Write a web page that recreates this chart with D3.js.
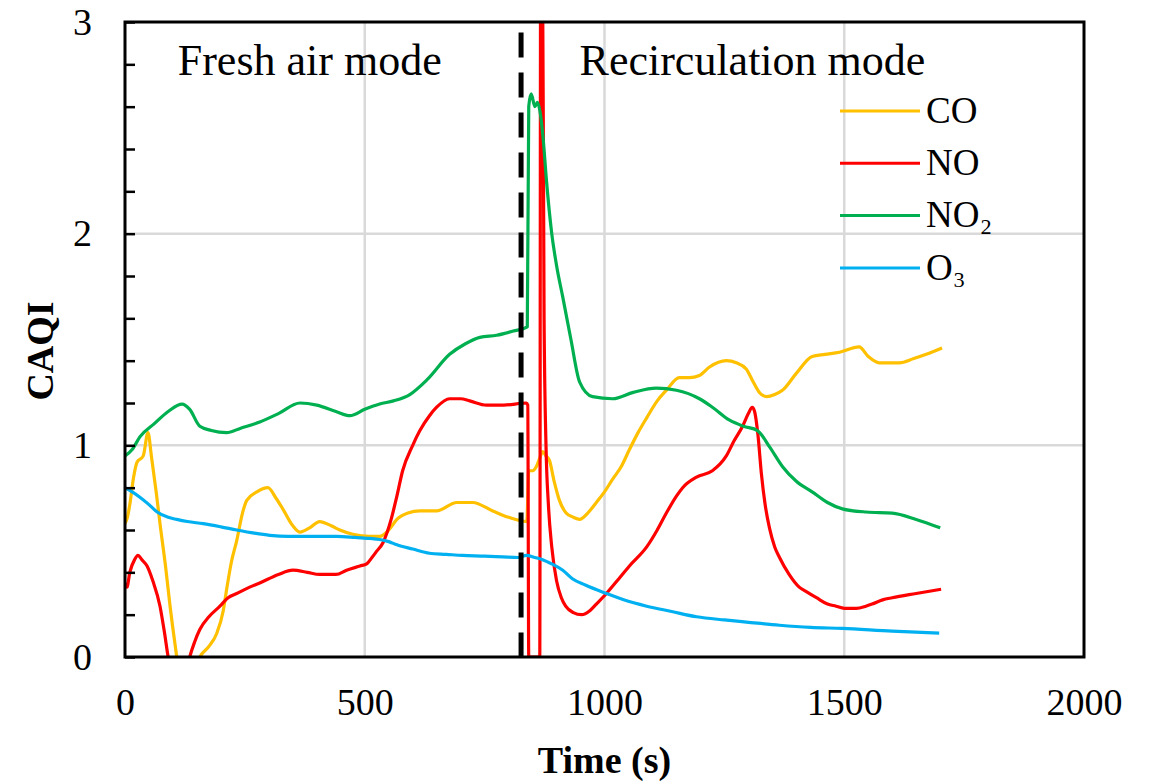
<!DOCTYPE html>
<html>

<head>
    <title>CAQI - fresh air vs recirculation</title>
    <script src="https://cdn.jsdelivr.net/npm/d3@7"></script>
    <style>
        body {
            margin: 0;
            background: white;
            font-family: 'Times New Roman', 'Liberation Serif', serif;
        }
    </style>
</head>

<body>
    <div id="visDiv"></div>
</body>
<script>
    /* Data (time in s, CAQI) */
    var seriesNames = ["CO", "NO", "NO\u2082", "O\u2083"];
    var seriesColors = ["#FFC000", "#FF0000", "#00B050", "#00B0F0"];

    var coData = [[0, 0.63], [5, 0.66], [10, 0.72], [18, 0.85], [25, 0.92], [38, 0.95], [48, 1.06], [55, 0.95],
    [65, 0.78], [73, 0.63], [85, 0.42], [94, 0.24], [105, 0.05], [115, -0.1], [133, -0.15], [156, 0], [175, 0.05],
    [191, 0.11], [205, 0.22], [212, 0.32], [222, 0.45], [233, 0.55], [245, 0.68], [254, 0.74], [275, 0.78],
    [298, 0.80], [315, 0.75], [329, 0.70], [350, 0.62], [365, 0.59], [385, 0.61], [406, 0.64], [430, 0.62],
    [448, 0.60], [475, 0.58], [510, 0.57], [531, 0.57], [550, 0.6], [567, 0.65], [590, 0.68], [615, 0.69],
    [650, 0.69], [692, 0.73], [725, 0.73], [767, 0.69], [800, 0.66], [838, 0.64], [842, 0.88], [850, 0.88],
    [858, 0.90], [865, 0.94], [871, 0.97], [878, 0.95], [885, 0.93], [895, 0.83], [906, 0.74], [920, 0.68],
    [935, 0.66], [948, 0.65], [965, 0.68], [983, 0.73], [1000, 0.78], [1017, 0.84], [1035, 0.9], [1052, 0.98],
    [1070, 1.06], [1088, 1.13], [1110, 1.21], [1129, 1.26], [1156, 1.32], [1177, 1.32], [1198, 1.33],
    [1219, 1.37], [1254, 1.40], [1275, 1.39], [1296, 1.36], [1310, 1.30], [1323, 1.25], [1338, 1.23],
    [1355, 1.24], [1371, 1.26], [1400, 1.34], [1433, 1.42], [1460, 1.43], [1490, 1.44], [1531, 1.465],
    [1550, 1.42], [1573, 1.39], [1600, 1.39], [1615, 1.39], [1645, 1.41], [1671, 1.43], [1704, 1.46]];

    var noData = [[0, 0.35], [4, 0.33], [10, 0.4], [20, 0.46], [27, 0.48], [35, 0.46], [46, 0.43], [58, 0.36],
    [73, 0.24], [82, 0.12], [90, 0], [110, -0.15], [125, -0.1], [135, 0], [145, 0.07], [156, 0.13], [175, 0.19],
    [198, 0.24], [215, 0.28], [233, 0.30], [260, 0.33], [281, 0.35], [320, 0.39], [350, 0.41], [380, 0.40],
    [406, 0.39], [440, 0.39], [462, 0.41], [490, 0.43], [504, 0.44], [515, 0.47], [525, 0.50], [538, 0.54],
    [555, 0.65], [567, 0.76], [579, 0.88], [600, 1.0], [615, 1.07], [635, 1.14], [650, 1.18], [677, 1.22],
    [700, 1.22], [719, 1.21], [754, 1.19], [790, 1.19], [837, 1.2], [840, 1.19], [842, 0], [865, 0], [867, 3.6],
    [870, 3.6], [874, 1.6], [878, 1.0], [883, 0.72], [890, 0.52], [900, 0.36], [910, 0.28], [919, 0.24],
    [935, 0.21], [952, 0.20], [970, 0.22], [983, 0.25], [1004, 0.30], [1030, 0.37], [1052, 0.43], [1088, 0.52],
    [1110, 0.6], [1129, 0.68], [1150, 0.76], [1163, 0.80], [1192, 0.85], [1225, 0.88], [1254, 0.95],
    [1270, 1.02], [1288, 1.09], [1300, 1.15], [1308, 1.18], [1313, 1.16], [1320, 1.05], [1327, 0.87],
    [1335, 0.72], [1344, 0.61], [1355, 0.52], [1365, 0.47], [1385, 0.39], [1406, 0.33], [1420, 0.31],
    [1442, 0.28], [1465, 0.25], [1483, 0.24], [1500, 0.23], [1525, 0.23], [1545, 0.24], [1558, 0.25],
    [1580, 0.27], [1600, 0.28], [1650, 0.30], [1702, 0.32]];

    var no2Data = [[0, 0.95], [15, 0.98], [31, 1.04], [60, 1.1], [90, 1.16], [119, 1.195], [135, 1.17], [156, 1.09],
    [180, 1.07], [212, 1.06], [240, 1.08], [281, 1.11], [320, 1.15], [365, 1.2], [400, 1.19], [440, 1.16],
    [469, 1.14], [500, 1.17], [531, 1.195], [560, 1.21], [594, 1.24], [630, 1.31], [677, 1.43], [710, 1.48],
    [740, 1.51], [775, 1.52], [810, 1.54], [839, 1.56], [842, 2.6], [847, 2.66], [855, 2.6], [860, 2.62],
    [866, 2.57], [872, 2.45], [879, 2.25], [890, 2.0], [900, 1.85], [913, 1.7], [930, 1.5], [948, 1.3],
    [975, 1.23], [1017, 1.22], [1060, 1.25], [1108, 1.27], [1150, 1.26], [1198, 1.22], [1225, 1.18],
    [1260, 1.12], [1290, 1.09], [1319, 1.07], [1345, 0.99], [1371, 0.9], [1400, 0.83], [1433, 0.78],
    [1465, 0.73], [1496, 0.70], [1546, 0.685], [1600, 0.68], [1650, 0.65], [1700, 0.61]];

    var o3Data = [[0, 0.80], [15, 0.78], [31, 0.755], [50, 0.72], [67, 0.685], [90, 0.66], [108, 0.65], [130, 0.64],
    [163, 0.63], [200, 0.615], [233, 0.60], [270, 0.585], [302, 0.575], [340, 0.57], [371, 0.57], [410, 0.57],
    [442, 0.57], [480, 0.565], [510, 0.56], [531, 0.555], [550, 0.545], [567, 0.53], [600, 0.51], [635, 0.49],
    [670, 0.485], [704, 0.48], [750, 0.477], [788, 0.473], [820, 0.47], [837, 0.48], [855, 0.47], [871, 0.46],
    [890, 0.44], [913, 0.41], [933, 0.37], [960, 0.34], [1004, 0.30], [1040, 0.27], [1088, 0.24], [1140, 0.215],
    [1192, 0.19], [1250, 0.175], [1296, 0.165], [1365, 0.15], [1430, 0.14], [1496, 0.135], [1600, 0.122],
    [1698, 0.113]];

    var allSeries = [coData, noData, no2Data, o3Data];

    /* mode switch (dashed line) and labels */
    var switchTime = 826;
    var switchTop = 2.95;
    var modeLabels = [{ text: "Fresh air mode", t: 110, v: 2.75 }, { text: "Recirculation mode", t: 948, v: 2.75 }];

    var xTicks = [0, 500, 1000, 1500, 2000];
    var yTicks = [0, 1, 2, 3];
    var yMinorTicks = d3.range(0, 3.001, 0.2);

    /* Layout constants */
    var margin = { top: 22, right: 69, bottom: 127, left: 125 },
        width = 1153 - margin.left - margin.right,
        height = 784 - margin.top - margin.bottom;

    var svg = d3.select("#visDiv")
        .append("svg")
        .attr("width", 1153)
        .attr("height", 784)
        .append("g")
        .attr("transform", "translate(" + margin.left + "," + margin.top + ")");

    /* Scales */
    var x = d3.scaleLinear().domain([0, 2000]).range([0, width]);
    var y = d3.scaleLinear().domain([0, 3]).range([height, 0]);

    svg.append("defs").append("clipPath")
        .attr("id", "plotClip")
        .append("rect")
        .attr("width", width)
        .attr("height", height);

    /* Gridlines */
    svg.append("g")
        .selectAll("line")
        .data(xTicks.slice(1, -1))
        .enter()
        .append("line")
        .attr("x1", function (d) { return x(d) })
        .attr("x2", function (d) { return x(d) })
        .attr("y1", 0)
        .attr("y2", height)
        .attr("stroke", "#d9d9d9")
        .attr("stroke-width", 2.5);
    svg.append("g")
        .selectAll("line")
        .data(yTicks.slice(1, -1))
        .enter()
        .append("line")
        .attr("x1", 0)
        .attr("x2", width)
        .attr("y1", function (d) { return y(d) })
        .attr("y2", function (d) { return y(d) })
        .attr("stroke", "#d9d9d9")
        .attr("stroke-width", 2.5);

    /* Lines */
    var line = d3.line()
        .x(function (d) { return x(d[0]) })
        .y(function (d) { return y(d[1]) })
        .curve(d3.curveMonotoneX);

    var plot = svg.append("g").attr("clip-path", "url(#plotClip)");
    plot.selectAll(".series")
        .data(allSeries)
        .enter()
        .append("path")
        .attr("class", "series")
        .attr("fill", "none")
        .attr("stroke", function (d, i) { return seriesColors[i] })
        .attr("stroke-width", 3.2)
        .attr("stroke-linejoin", "round")
        .attr("d", line);

    // dashed switch line
    svg.append("line")
        .attr("x1", x(switchTime))
        .attr("x2", x(switchTime))
        .attr("y1", y(switchTop))
        .attr("y2", y(0))
        .attr("stroke", "black")
        .attr("stroke-width", 5)
        .attr("stroke-dasharray", "25,15");

    /* Frame + axes */
    svg.append("rect")
        .attr("width", width)
        .attr("height", height)
        .attr("fill", "none")
        .attr("stroke", "black")
        .attr("stroke-width", 3);

    var yAxis = svg.append("g")
        .call(d3.axisLeft(y).tickValues(yMinorTicks).tickSize(-10).tickPadding(33)
            .tickFormat(function (d) { return Math.abs(d - Math.round(d)) < 1e-6 ? d3.format("d")(d) : "" }));
    yAxis.select(".domain").remove();
    yAxis.selectAll(".tick line").attr("stroke", "black").attr("stroke-width", 2.5);
    yAxis.selectAll("text")
        .attr("font-family", "'Times New Roman', 'Liberation Serif', serif")
        .attr("font-size", 38)
        .attr("fill", "#000");

    var xAxis = svg.append("g")
        .attr("transform", "translate(0," + height + ")")
        .call(d3.axisBottom(x).tickValues(xTicks).tickSize(0).tickPadding(31).tickFormat(d3.format("d")));
    xAxis.select(".domain").remove();
    xAxis.selectAll("text")
        .attr("font-family", "'Times New Roman', 'Liberation Serif', serif")
        .attr("font-size", 38)
        .attr("fill", "#000");

    /* Axis titles */
    svg.append("text")
        .attr("x", width / 2)
        .attr("y", 751)
        .attr("text-anchor", "middle")
        .attr("font-size", 38)
        .attr("font-weight", "bold")
        .text("Time (s)");
    svg.append("text")
        .attr("transform", "translate(" + (53 - margin.left) + "," + (351 - margin.top) + ") rotate(-90)")
        .attr("text-anchor", "middle")
        .attr("font-size", 38)
        .attr("font-weight", "bold")
        .text("CAQI");

    /* Mode labels */
    svg.selectAll(".mode")
        .data(modeLabels)
        .enter()
        .append("text")
        .attr("class", "mode")
        .attr("x", function (d) { return x(d.t) })
        .attr("y", function (d) { return y(d.v) })
        .attr("font-size", 44)
        .text(function (d) { return d.text });

    /* Legend */
    var legend = svg.append("g").attr("transform", "translate(715,89)");
    var items = legend.selectAll("g")
        .data(seriesNames)
        .enter()
        .append("g")
        .attr("transform", function (d, i) { return "translate(0," + (i * 52.3) + ")" });
    items.append("line")
        .attr("x1", 0)
        .attr("x2", 80)
        .attr("stroke", function (d, i) { return seriesColors[i] })
        .attr("stroke-width", 3);
    items.append("text")
        .attr("x", 86)
        .attr("dy", "0.32em")
        .attr("font-size", 37)
        .text(function (d) { return d });
</script>

</html>
